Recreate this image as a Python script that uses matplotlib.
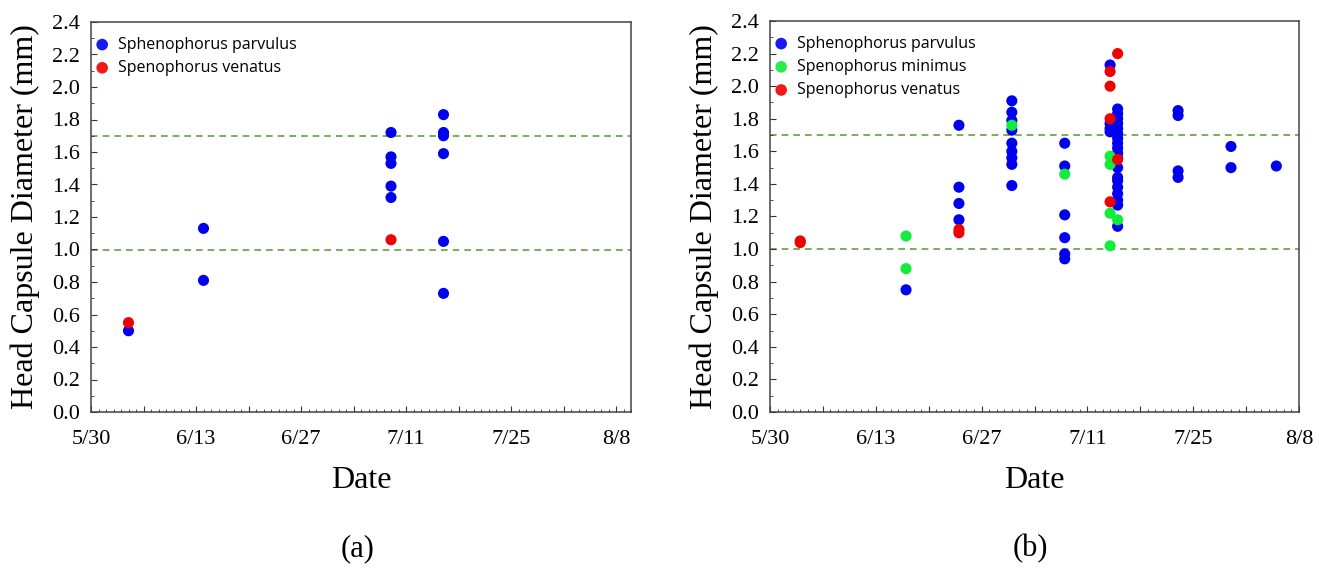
import datetime as dt

import matplotlib
matplotlib.use("Agg")
import matplotlib.pyplot as plt
import matplotlib.dates as mdates
from matplotlib.ticker import MultipleLocator, FuncFormatter

YEAR = 2019

# panel (a): sampling dates and head capsule widths (mm)
a_parvulus_dates = ["6/4", "6/14", "6/14", "7/9", "7/9", "7/9", "7/9", "7/9",
                    "7/16", "7/16", "7/16", "7/16", "7/16", "7/16"]
a_parvulus_mm = [0.50, 1.13, 0.81, 1.72, 1.57, 1.53, 1.39, 1.32,
                 1.83, 1.72, 1.70, 1.59, 1.05, 0.73]
a_venatus_dates = ["6/4", "7/9"]
a_venatus_mm = [0.55, 1.06]

# panel (b)
b_parvulus_dates = (["6/17"]
                    + ["6/24"] * 4
                    + ["7/1"] * 9
                    + ["7/8"] * 6
                    + ["7/14"] * 4
                    + ["7/15"] * 19
                    + ["7/23"] * 4
                    + ["7/30"] * 2
                    + ["8/5"])
b_parvulus_mm = ([0.75]
                 + [1.76, 1.38, 1.28, 1.18]
                 + [1.91, 1.84, 1.79, 1.73, 1.65, 1.60, 1.56, 1.52, 1.39]
                 + [1.65, 1.51, 1.21, 1.07, 0.97, 0.94]
                 + [2.13, 1.77, 1.74, 1.72]
                 + [1.86, 1.83, 1.80, 1.77, 1.74, 1.71, 1.68, 1.65, 1.62, 1.59,
                    1.56, 1.50, 1.44, 1.42, 1.38, 1.34, 1.30, 1.27, 1.14]
                 + [1.85, 1.82, 1.48, 1.44]
                 + [1.63, 1.50]
                 + [1.51])
b_minimus_dates = ["6/17", "6/17", "7/1", "7/8", "7/14", "7/14", "7/14", "7/14", "7/15"]
b_minimus_mm = [1.08, 0.88, 1.76, 1.46, 1.57, 1.52, 1.22, 1.02, 1.18]
b_venatus_dates = ["6/3", "6/3", "6/24", "6/24", "7/14", "7/14", "7/14", "7/14",
                   "7/15", "7/15"]
b_venatus_mm = [1.05, 1.04, 1.12, 1.10, 2.09, 2.00, 1.80, 1.29, 2.20, 1.55]

instar_limits = [1.0, 1.7]
tick_labels = ["5/30", "6/13", "6/27", "7/11", "7/25", "8/8"]

BLUE = "#0000f0"
GREEN = "#12ec3c"
RED = "#f20000"


def to_date(s):
    m, d = s.split("/")
    return dt.date(YEAR, int(m), int(d))


serif = ["Liberation Serif", "DejaVu Serif"]
sans = ["Open Sans", "DejaVu Sans"]


def style_axes(ax, x_end):
    start = to_date("5/30")
    ax.set_xlim(start, to_date(x_end))
    ax.set_ylim(0, 2.4)

    week_ticks = [start + dt.timedelta(days=7 * i) for i in range(11)]
    ax.set_xticks(week_ticks)
    ax.xaxis.set_minor_locator(mdates.DayLocator())
    ax.set_xticklabels([tick_labels[i // 2] if i % 2 == 0 else "" for i in range(11)],
                       family=serif, fontsize=16)
    ax.yaxis.set_major_locator(MultipleLocator(0.2))
    ax.yaxis.set_minor_locator(MultipleLocator(0.1))
    ax.yaxis.set_major_formatter(FuncFormatter(lambda v, p: f"{v:.1f}"))
    for lab in ax.get_yticklabels():
        lab.set_family(serif)
        lab.set_fontsize(16)

    ax.tick_params(which="major", direction="in", length=4, width=0.8, color="#333333")
    ax.tick_params(which="minor", direction="in", length=2, width=0.6, color="#333333")
    ax.tick_params(axis="x", which="major", pad=13)
    ax.tick_params(axis="y", which="major", pad=8)
    for sp in ax.spines.values():
        sp.set_color("#444444")
        sp.set_linewidth(1.1)

    for lim in instar_limits:
        ax.axhline(lim, color="#64a03c", linestyle=(0, (4, 3)), linewidth=1.2, zorder=1)

    ax.set_xlabel("Date", family=serif, fontsize=23, labelpad=12)
    ax.set_ylabel("Head Capsule Diameter (mm)", family=serif, fontsize=23, labelpad=9)


def scatter(ax, dates, values, color, label):
    ax.scatter([to_date(s) for s in dates], values, s=64, color=color,
               edgecolors="none", label=label, zorder=3)


fig = plt.figure(figsize=(13.19, 5.74), dpi=100)
ax_a = fig.add_axes([91 / 1319, 162 / 574, 540 / 1319, 390 / 574])
ax_b = fig.add_axes([770 / 1319, 162 / 574, 529 / 1319, 391 / 574])

scatter(ax_a, a_parvulus_dates, a_parvulus_mm, BLUE, "Sphenophorus parvulus")
scatter(ax_a, a_venatus_dates, a_venatus_mm, RED, "Spenophorus venatus")
style_axes(ax_a, "8/10")

scatter(ax_b, b_parvulus_dates, b_parvulus_mm, BLUE, "Sphenophorus parvulus")
scatter(ax_b, b_minimus_dates, b_minimus_mm, GREEN, "Spenophorus minimus")
scatter(ax_b, b_venatus_dates, b_venatus_mm, RED, "Spenophorus venatus")
style_axes(ax_b, "8/8")

for ax in (ax_a, ax_b):
    leg = ax.legend(loc="upper left", bbox_to_anchor=(0, 1 - 10 / 390),
                    frameon=False, prop={"family": sans, "size": 11.5},
                    handletextpad=0.62, borderaxespad=0.2, borderpad=0.1,
                    labelspacing=0.45, handlelength=0.8)
    for h in leg.legend_handles:
        h.set_sizes([70])
        h.set_alpha(0.9)

fig.text(358 / 1319, 1 - 549 / 574, "(a)", family=serif, fontsize=22,
         ha="center", va="center")
fig.text(1030 / 1319, 1 - 549 / 574, "(b)", family=serif, fontsize=22,
         ha="center", va="center")

fig.savefig("out.png", dpi=100)
